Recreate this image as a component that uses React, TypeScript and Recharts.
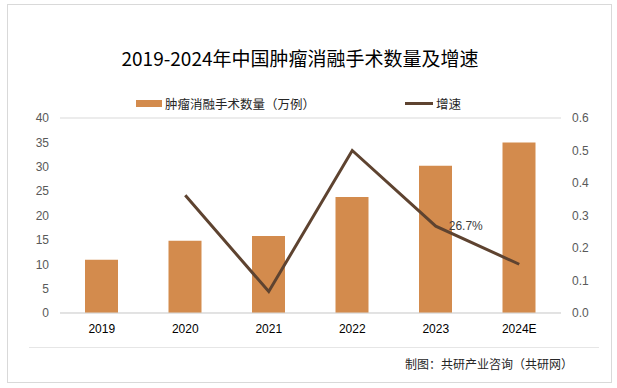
import React from 'react';
import { ComposedChart, Bar, Line, XAxis, YAxis, CartesianGrid, LabelList } from 'recharts';

const categories = ['2019', '2020', '2021', '2022', '2023', '2024E'];
const surgeries = [10.9, 14.8, 15.8, 23.8, 30.2, 35];
const growth = [null, 0.362, 0.066, 0.5, 0.267, 0.15];
const leftTicks = [0, 5, 10, 15, 20, 25, 30, 35, 40];
const rightTicks = [0, 0.1, 0.2, 0.3, 0.4, 0.5, 0.6];
const labeledIndex = 4;

const data = categories.map((c, i) => ({ name: c, count: surgeries[i], rate: growth[i] }));

const BAR_COLOR = '#D38B4D';
const LINE_COLOR = '#5E4330';
const FONT = '"Noto Sans CJK SC", "Noto Sans", sans-serif';
const NUM_FONT = '"Liberation Sans", "Noto Sans", sans-serif';

const RateLabel = (props: any) => {
  const { x, y, index, value } = props;
  if (index !== labeledIndex || value == null) return null;
  return (
    <text x={x + 13} y={y} dy={4} fontSize={12} fill="#404040" fontFamily={NUM_FONT}>
      {(value * 100).toFixed(1) + '%'}
    </text>
  );
};

export default function App() {
  return (
    <div style={{ position: 'absolute', left: 0, top: 0, width: 617, height: 388, background: '#fff', fontFamily: FONT }}>
      <div style={{ position: 'absolute', left: 7, top: 4, width: 603, height: 377, border: '1px solid #d9d9d9' }} />
      <div style={{ position: 'absolute', left: 0, top: 44, width: 600, textAlign: 'center', fontSize: 19, color: '#000', whiteSpace: 'nowrap' }}>
        2019-2024年中国肿瘤消融手术数量及增速
      </div>
      <div style={{ position: 'absolute', left: 136, top: 94, display: 'flex', alignItems: 'center', fontSize: 12.5, color: '#262626', whiteSpace: 'nowrap' }}>
        <span style={{ display: 'inline-block', width: 26, height: 7, background: BAR_COLOR, marginRight: 3 }} />
        肿瘤消融手术数量（万例）
      </div>
      <div style={{ position: 'absolute', left: 405, top: 94, display: 'flex', alignItems: 'center', fontSize: 12.5, color: '#262626', whiteSpace: 'nowrap' }}>
        <span style={{ display: 'inline-block', width: 28, height: 3, background: LINE_COLOR, marginRight: 3 }} />
        增速
      </div>
      <div style={{ position: 'absolute', left: 29, top: 347, width: 570, height: 1, background: '#e6e6e6' }} />
      <div style={{ position: 'absolute', left: 405, top: 355, fontSize: 12, color: '#262626', whiteSpace: 'nowrap' }}>
        制图：共研产业咨询（共研网）
      </div>
      <div style={{ position: 'absolute', left: 0, top: 0 }}>
        <ComposedChart width={617} height={388} data={data} margin={{ top: 118, right: 0, bottom: 55, left: 0 }}>
          <CartesianGrid vertical={false} stroke="#d9d9d9" />
          <XAxis dataKey="name" axisLine={{ stroke: '#d9d9d9' }} tickLine={false} tickMargin={5} height={20}
            tick={{ fontSize: 12, fill: '#000', fontFamily: NUM_FONT }} />
          <YAxis yAxisId="left" orientation="left" width={60} domain={[0, 40]} ticks={leftTicks} axisLine={false} tickLine={false}
            tickMargin={5} tick={{ fontSize: 12, fill: '#595959', fontFamily: NUM_FONT }} interval={0} />
          <YAxis yAxisId="right" orientation="right" width={56} domain={[0, 0.6]} ticks={rightTicks} axisLine={false} tickLine={false}
            tickMargin={5} tick={{ fontSize: 12, fill: '#595959', fontFamily: NUM_FONT }} interval={0}
            tickFormatter={(v: number) => v.toFixed(1)} />
          <Bar yAxisId="left" dataKey="count" fill={BAR_COLOR} barSize={33} isAnimationActive={false} />
          <Line yAxisId="right" dataKey="rate" stroke={LINE_COLOR} strokeWidth={3} dot={false} isAnimationActive={false} connectNulls={false}>
            <LabelList dataKey="rate" content={RateLabel} />
          </Line>
        </ComposedChart>
      </div>
    </div>
  );
}
